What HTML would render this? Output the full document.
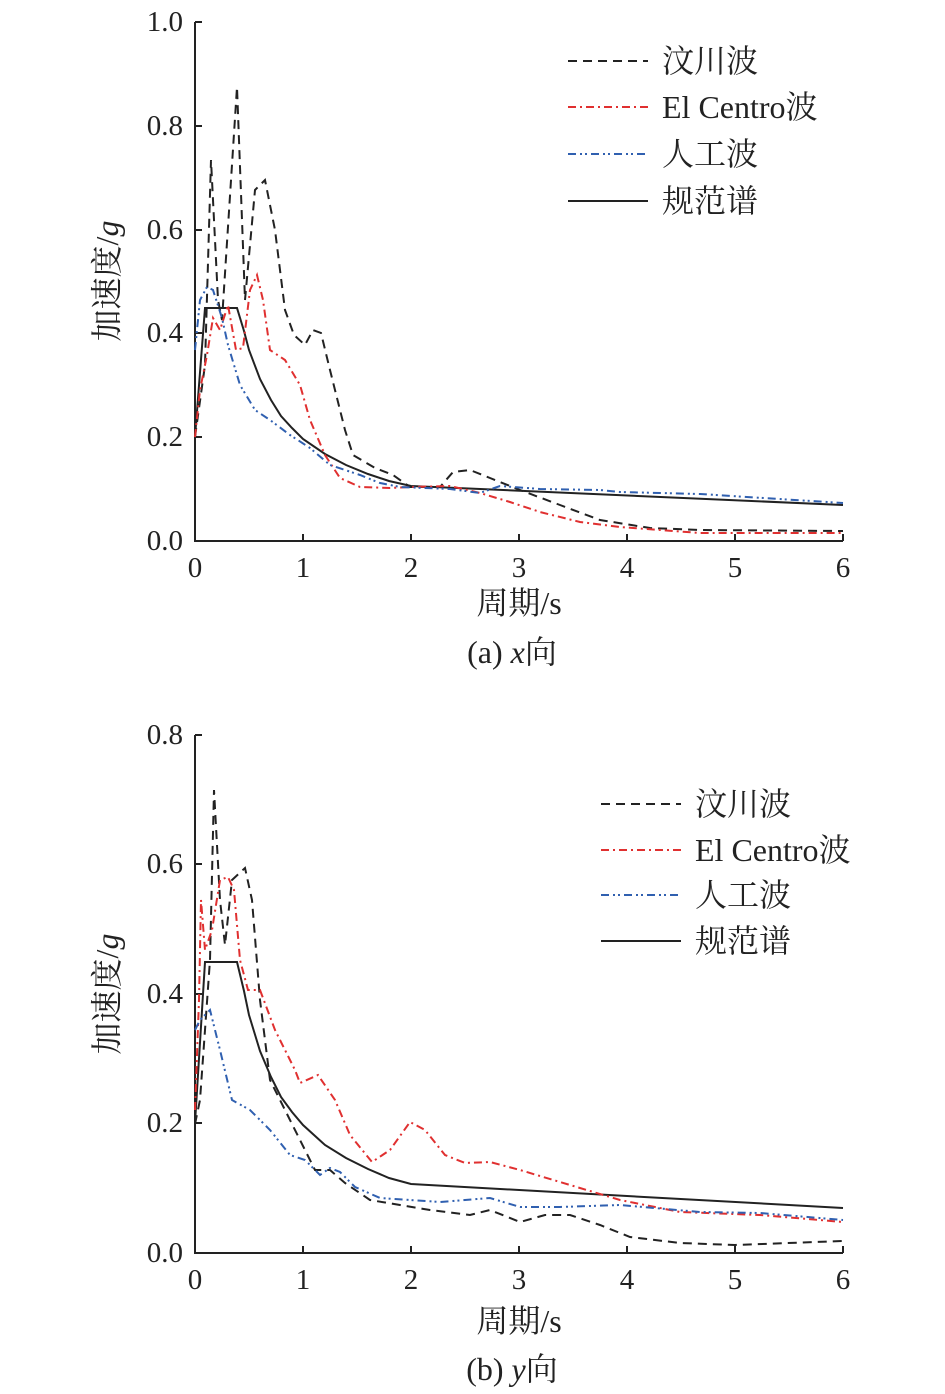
<!DOCTYPE html><html><head><meta charset="utf-8"><style>body{margin:0;background:#fff}svg{display:block}text{font-family:"Liberation Serif","Noto Serif CJK SC",serif;fill:#222}</style></head><body>
<svg width="945" height="1394" viewBox="0 0 945 1394" xmlns="http://www.w3.org/2000/svg">
<g stroke="#222" stroke-width="2" fill="none">
<path d="M195,22V541H843"/>
<path d="M195,22h7M195,126h7M195,230h7M195,333h7M195,437h7M303,541v-7M411,541v-7M519,541v-7M627,541v-7M735,541v-7M843,541v-7"/>
<path d="M195,735V1253H843"/>
<path d="M195,735h7M195,864h7M195,994h7M195,1123h7M303,1253v-7M411,1253v-7M519,1253v-7M627,1253v-7M735,1253v-7M843,1253v-7"/>
</g>
<g font-size="29" text-anchor="end">
<text x="183" y="31">1.0</text><text x="183" y="135">0.8</text><text x="183" y="239">0.6</text><text x="183" y="342">0.4</text><text x="183" y="446">0.2</text><text x="183" y="550">0.0</text>
<text x="183" y="744">0.8</text><text x="183" y="873">0.6</text><text x="183" y="1003">0.4</text><text x="183" y="1132">0.2</text><text x="183" y="1262">0.0</text>
</g>
<g font-size="29" text-anchor="middle">
<text x="195" y="577">0</text><text x="303" y="577">1</text><text x="411" y="577">2</text><text x="519" y="577">3</text><text x="627" y="577">4</text><text x="735" y="577">5</text><text x="843" y="577">6</text>
<text x="195" y="1289">0</text><text x="303" y="1289">1</text><text x="411" y="1289">2</text><text x="519" y="1289">3</text><text x="627" y="1289">4</text><text x="735" y="1289">5</text><text x="843" y="1289">6</text>
<text x="519" y="614" font-size="32">周期/s</text>
<text x="512" y="663" font-size="32">(a) <tspan font-style="italic">x</tspan>向</text>
<text x="519" y="1332" font-size="32">周期/s</text>
<text x="512" y="1380" font-size="32">(b) <tspan font-style="italic">y</tspan>向</text>
<text transform="translate(118,281) rotate(-90)" font-size="32">加速度/<tspan font-style="italic">g</tspan></text>
<text transform="translate(118,994) rotate(-90)" font-size="32">加速度/<tspan font-style="italic">g</tspan></text>
</g>
<g fill="none" stroke-width="2">
<polyline stroke="#222" points="195,437 205,308 237,308 244,331 249,350 260,379 271,400 281,416 292,428 303,439 325,454 346,465 368,474 389,481 411,486 843,505"/>
<polyline stroke="#222" stroke-dasharray="9,6" points="195,437 205,365 211,160 218,300 222,320 237,87 245,300 255,190 265,180 275,230 285,310 294,335 305,345 313,330 321,333 330,370 345,430 353,455 375,468 393,475 410,487 440,487 453,472 470,470 490,478 520,490 560,505 600,520 650,528 700,530 843,531"/>
<polyline stroke="#e03030" stroke-dasharray="8,4,2,4" points="195,437 200,390 207,355 213,318 220,330 228,305 236,350 243,348 250,290 257,275 263,300 270,350 285,360 300,385 310,420 325,455 340,478 360,487 390,488 410,487 450,486 480,493 510,502 540,512 580,522 620,527 700,533 843,533"/>
<polyline stroke="#3060b0" stroke-dasharray="8,4,2,3,2,4" points="195,350 200,300 207,287 213,290 222,318 228,345 240,385 255,410 270,420 290,435 310,448 330,465 360,475 380,483 400,487 450,489 480,493 500,486 540,489 600,490 620,492 700,494 843,503"/>
<polyline stroke="#222" points="195,1123 205,962 237,962 244,991 249,1015 260,1051 271,1077 281,1097 292,1112 303,1125 325,1145 346,1158 368,1169 389,1178 411,1184 843,1208"/>
<polyline stroke="#222" stroke-dasharray="9,6" points="195,1124 200,1100 205,1030 210,960 214,790 220,900 225,945 232,880 245,868 252,900 260,1000 270,1080 285,1110 300,1140 315,1170 330,1170 345,1183 370,1200 400,1205 430,1210 470,1215 490,1210 520,1222 545,1215 570,1215 600,1225 630,1237 680,1243 735,1245 843,1241"/>
<polyline stroke="#e03030" stroke-dasharray="8,4,2,4" points="195,1110 199,1000 201,900 205,950 212,930 220,880 228,877 234,890 240,960 248,990 260,990 275,1030 295,1070 300,1083 318,1075 335,1100 350,1135 372,1162 390,1150 410,1122 425,1130 445,1155 465,1163 490,1162 520,1170 570,1185 620,1200 680,1212 760,1215 843,1222"/>
<polyline stroke="#3060b0" stroke-dasharray="8,4,2,3,2,4" points="195,1030 200,1020 210,1010 215,1030 220,1050 232,1100 250,1110 270,1130 290,1155 305,1160 320,1175 330,1168 340,1172 355,1187 380,1198 410,1200 440,1202 490,1198 520,1207 560,1207 620,1205 700,1212 760,1213 843,1220"/>
<path stroke="#222" stroke-dasharray="9,6" d="M568,61h80M601,804h80"/>
<path stroke="#e03030" stroke-dasharray="8,4,2,4" d="M568,107h80M601,850h80"/>
<path stroke="#3060b0" stroke-dasharray="8,4,2,3,2,4" d="M568,154h80M601,895h80"/>
<path stroke="#222" d="M568,201h80M601,941h80"/>
</g>
<g font-size="32">
<text x="662" y="72">汶川波</text><text x="662" y="118">El Centro波</text><text x="662" y="165">人工波</text><text x="662" y="212">规范谱</text>
<text x="695" y="815">汶川波</text><text x="695" y="861">El Centro波</text><text x="695" y="906">人工波</text><text x="695" y="952">规范谱</text>
</g>
</svg></body></html>
